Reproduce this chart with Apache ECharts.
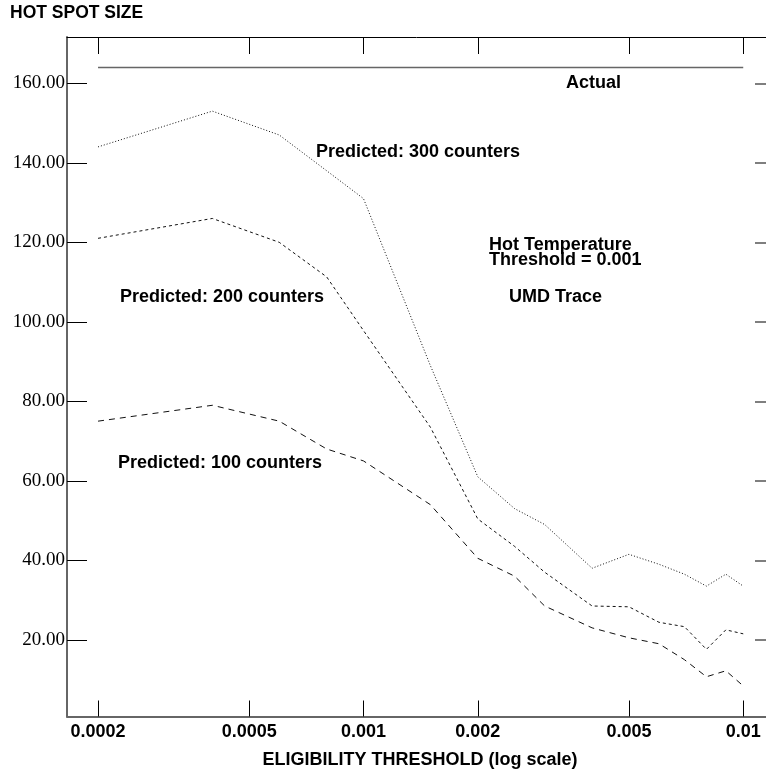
<!DOCTYPE html>
<html>
<head>
<meta charset="utf-8">
<script src="https://cdn.jsdelivr.net/npm/echarts@6/dist/echarts.min.js"></script>
<style>
html,body{margin:0;padding:0;background:#fff;}
#chart{width:766px;height:774px;}
</style>
</head>
<body>
<div id="chart"></div>
<script>
// ---- data ----
var thresholds = [0.0002, 0.0004, 0.0006, 0.0008, 0.001, 0.0015, 0.002, 0.0025, 0.003, 0.004, 0.005, 0.006, 0.007, 0.008, 0.009, 0.01];
var predicted300 = [144, 153, 147, 138, 131, 89, 61, 53, 49, 38, 41.5, 39, 36.5, 33.5, 36.5, 33.5];
var predicted200 = [121, 126, 120, 111.3, 97.8, 73.5, 50.4, 43.5, 37, 28.5, 28.3, 24.4, 23.3, 17.6, 22.5, 21.5];
var predicted100 = [75, 79, 75, 68, 65, 54, 40.5, 36, 28.5, 23, 20.5, 19, 15, 10.7, 12.2, 8.4];
var actualX = [0.0002, 0.01];
var actualY = [164, 164];
var xTickValues = [0.0002, 0.0005, 0.001, 0.002, 0.005, 0.01];
var xTickLabels = ['0.0002', '0.0005', '0.001', '0.002', '0.005', '0.01'];
var yTickValues = [20, 40, 60, 80, 100, 120, 140, 160];

function pairs(xs, ys) { return xs.map(function (x, i) { return [x, ys[i]]; }); }
function xLabel(v) {
  var best = 0, bd = Infinity;
  for (var i = 0; i < xTickValues.length; i++) {
    var d = Math.abs(Math.log(v) - Math.log(xTickValues[i]));
    if (d < bd) { bd = d; best = i; }
  }
  return xTickLabels[best];
}

var xMin = 0.0001657, xMax = 0.01148;
var yMin = 0.7, yMax = 171.65;
var annFont = 'bold 18px "Liberation Sans"';

var chart = echarts.init(document.getElementById('chart'), null, { renderer: 'canvas' });
chart.setOption({
  animation: false,
  backgroundColor: '#fff',
  grid: { left: 67, top: 37, right: 0, bottom: 57.5, containLabel: false },
  xAxis: [{
    type: 'log', logBase: 10, min: xMin, max: xMax, position: 'bottom',
    axisLine: { show: true, lineStyle: { color: '#666', width: 2 } },
    axisTick: { show: true, inside: true, length: 16, lineStyle: { color: '#000', width: 1 }, customValues: xTickValues },
    axisLabel: { show: true, margin: 7, customValues: xTickValues, formatter: xLabel,
      fontFamily: 'Liberation Sans', fontWeight: 'bold', fontSize: 18, color: '#000' },
    splitLine: { show: false }, minorTick: { show: false }
  }, {
    type: 'log', logBase: 10, min: xMin, max: xMax, position: 'top',
    axisLine: { show: true, lineStyle: { color: '#000', width: 1 } },
    axisTick: { show: true, inside: true, length: 17, lineStyle: { color: '#000', width: 1 }, customValues: xTickValues },
    axisLabel: { show: false },
    splitLine: { show: false }
  }],
  yAxis: [{
    type: 'value', min: yMin, max: yMax, position: 'left',
    axisLine: { show: true, lineStyle: { color: '#666', width: 2 } },
    axisTick: { show: true, inside: true, length: 20, lineStyle: { color: '#000', width: 1 }, customValues: yTickValues },
    axisLabel: { show: true, margin: 2, customValues: yTickValues, fontFamily: 'Liberation Serif', fontSize: 19, color: '#000',
      formatter: function (v) { return v.toFixed(2); } },
    splitLine: { show: false }
  }, {
    type: 'value', min: yMin, max: yMax, position: 'right',
    axisLine: { show: false },
    axisTick: { show: true, inside: true, length: 11, lineStyle: { color: '#555', width: 1.5 }, customValues: yTickValues },
    axisLabel: { show: false },
    splitLine: { show: false }
  }],
  series: [{
    name: 'Actual', type: 'line', data: pairs(actualX, actualY), symbol: 'none',
    lineStyle: { color: '#666', width: 1.5, type: 'solid' }
  }, {
    name: 'Predicted: 300 counters', type: 'line', data: pairs(thresholds, predicted300), symbol: 'none',
    lineStyle: { color: '#111', width: 1, type: [1, 2] }
  }, {
    name: 'Predicted: 200 counters', type: 'line', data: pairs(thresholds, predicted200), symbol: 'none',
    lineStyle: { color: '#111', width: 1, type: [3, 3] }
  }, {
    name: 'Predicted: 100 counters', type: 'line', data: pairs(thresholds, predicted100), symbol: 'none',
    lineStyle: { color: '#111', width: 1, type: [6, 5] }
  }],
  graphic: [
    { type: 'text', x: 10, y: 13, style: { text: 'HOT SPOT SIZE', font: 'bold 17.5px "Liberation Sans"', fill: '#000', verticalAlign: 'middle' } },
    { type: 'text', x: 420, y: 760, style: { text: 'ELIGIBILITY THRESHOLD (log scale)', font: annFont, fill: '#000', align: 'center', verticalAlign: 'middle' } },
    { type: 'text', x: 566, y: 83, style: { text: 'Actual', font: annFont, fill: '#000', verticalAlign: 'middle' } },
    { type: 'text', x: 316, y: 152, style: { text: 'Predicted: 300 counters', font: annFont, fill: '#000', verticalAlign: 'middle' } },
    { type: 'text', x: 489, y: 245, style: { text: 'Hot Temperature', font: annFont, fill: '#000', verticalAlign: 'middle' } },
    { type: 'text', x: 489, y: 260, style: { text: 'Threshold = 0.001', font: annFont, fill: '#000', verticalAlign: 'middle' } },
    { type: 'text', x: 120, y: 297, style: { text: 'Predicted: 200 counters', font: annFont, fill: '#000', verticalAlign: 'middle' } },
    { type: 'text', x: 509, y: 297, style: { text: 'UMD Trace', font: annFont, fill: '#000', verticalAlign: 'middle' } },
    { type: 'text', x: 118, y: 463, style: { text: 'Predicted: 100 counters', font: annFont, fill: '#000', verticalAlign: 'middle' } }
  ]
});
</script>
</body>
</html>
